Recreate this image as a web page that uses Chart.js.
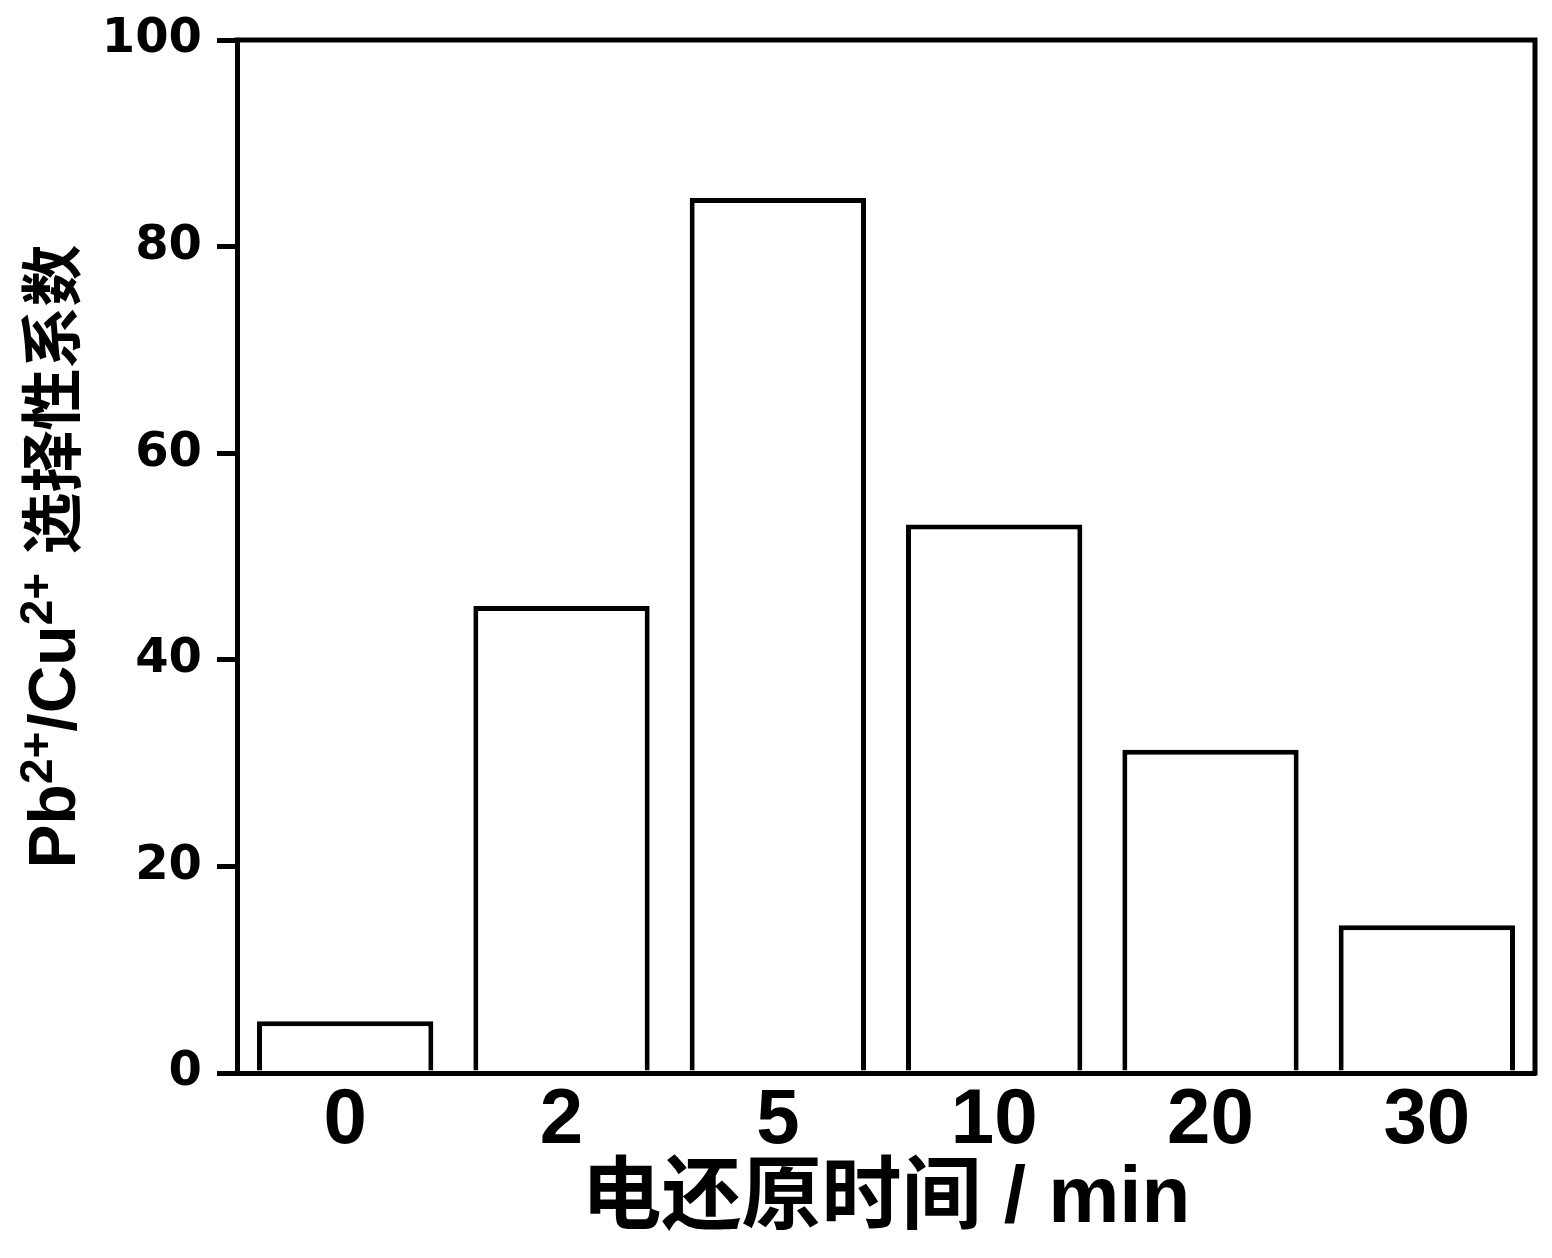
<!DOCTYPE html>
<html>
<head>
<meta charset="utf-8">
<script src="https://cdn.jsdelivr.net/npm/chart.js@4.4.1/dist/chart.umd.min.js"></script>
<style>
  html, body { margin: 0; padding: 0; background: #fff; }
  #wrap { width: 1552px; height: 1258px; position: relative; }
</style>
</head>
<body>
<div id="wrap"><canvas id="c"></canvas></div>
<script>
const categories = ['0', '2', '5', '10', '20', '30'];
const selectivity = [5.0, 45.2, 84.7, 53.1, 31.3, 14.3];
const yTicks = [0, 20, 40, 60, 80, 100];
const xTitle = '电还原时间 / min';
// y title pieces: [text, isSuperscript]
const yTitleParts = [['Pb', false], ['2+', true], ['/Cu', false], ['2+', true], [' 选择性系数', false]];

const PAD_LEFT = 19, PAD_TOP = 40, PAD_RIGHT = 17, PAD_BOTTOM = 6;
const AREA_LEFT = 237, AREA_BOTTOM = 1073, H = 1258;

const frame = {
  id: 'frame',
  afterDraw(chart) {
    const { ctx, chartArea: a } = chart;
    ctx.save();
    ctx.strokeStyle = '#000';
    ctx.lineWidth = 5;
    ctx.beginPath();
    ctx.moveTo(a.left - 2.5, a.top);
    ctx.lineTo(a.right, a.top);
    ctx.lineTo(a.right, a.bottom + 2.5);
    ctx.stroke();
    ctx.restore();
  }
};

const yTitlePlugin = {
  id: 'yTitle',
  afterDraw(chart) {
    const { ctx, chartArea: a } = chart;
    const mainFont = "bold 66px 'Liberation Sans', 'Noto Sans CJK SC', sans-serif";
    const cjkFont = "bold 62px 'Noto Sans CJK SC', sans-serif";
    const supFont = "bold 46px 'Liberation Sans', sans-serif";
    const parts = [];
    yTitleParts.forEach(([t, sup]) => {
      if (!sup && /[\u4e00-\u9fff]/.test(t)) {
        const lead = t.match(/^\s*/)[0];
        if (lead) parts.push([lead, false, mainFont]);
        parts.push([t.trim(), false, cjkFont]);
      } else parts.push([t, sup, sup ? supFont : mainFont]);
    });
    ctx.save();
    let total = 0;
    const widths = parts.map(([t, sup, f]) => { ctx.font = f; const w = ctx.measureText(t).width; total += w; return w; });
    const cy = (a.top + a.bottom) / 2;
    ctx.translate(75, cy);
    ctx.rotate(-Math.PI / 2);
    ctx.fillStyle = '#000';
    ctx.textBaseline = 'alphabetic';
    ctx.textAlign = 'left';
    let x = -total / 2;
    parts.forEach(([t, sup, f], i) => {
      ctx.font = f;
      ctx.fillText(t, x, sup ? -23 : 0);
      x += widths[i];
    });
    ctx.restore();
  }
};

new Chart(document.getElementById('c'), {
  type: 'bar',
  data: {
    labels: categories,
    datasets: [{
      data: selectivity,
      backgroundColor: '#fff',
      borderColor: '#000',
      borderWidth: 5,
      categoryPercentage: 1.0,
      barPercentage: 0.815
    }]
  },
  options: {
    responsive: true,
    maintainAspectRatio: false,
    animation: false,
    devicePixelRatio: 1,
    layout: { padding: { left: PAD_LEFT, top: PAD_TOP, right: PAD_RIGHT, bottom: PAD_BOTTOM } },
    plugins: { legend: { display: false }, tooltip: { enabled: false } },
    scales: {
      x: {
        grid: { display: false, drawTicks: false },
        border: { display: true, color: '#000', width: 5 },
        ticks: {
          color: '#000',
          padding: 2,
          font: { family: "'Liberation Sans', Arial, sans-serif", size: 78, weight: 'bold' }
        },
        title: {
          display: true,
          text: xTitle,
          color: '#000',
          padding: { top: 0, bottom: 4 },
          font: { family: "'Liberation Sans', 'Noto Sans CJK SC', sans-serif", size: 80, weight: 'bold' }
        },
        afterFit(scale) { scale.height = H - AREA_BOTTOM - PAD_BOTTOM; }
      },
      y: {
        min: 0, max: 100,
        afterBuildTicks(scale) { scale.ticks = yTicks.map(v => ({ value: v })); },
        grid: { drawOnChartArea: false, drawTicks: true, tickLength: 20, lineWidth: 5, color: '#000' },
        border: { display: true, color: '#000', width: 5 },
        ticks: {
          color: '#000',
          padding: 15,
          font: { family: "'DejaVu Sans', sans-serif", size: 48, weight: 'bold', lineHeight: 1 }
        },
        title: { display: false },
        afterFit(scale) { scale.width = AREA_LEFT - PAD_LEFT; }
      }
    }
  },
  plugins: [frame, yTitlePlugin]
});
</script>
</body>
</html>
